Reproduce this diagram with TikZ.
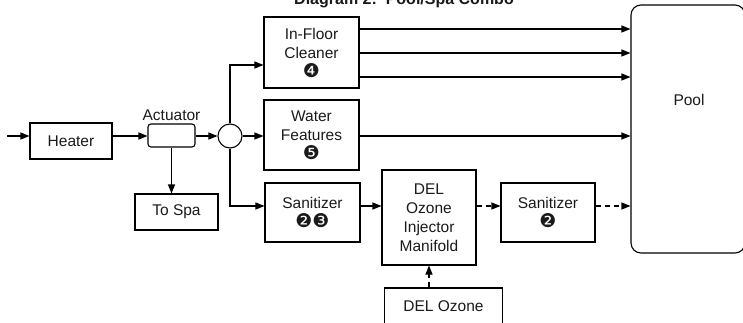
\documentclass[tikz,border=0pt]{standalone}
\usepackage{fontspec}
\setmainfont{Liberation Sans}
\newfontfamily\dingfont{DejaVu Sans}
\usetikzlibrary{arrows.meta, positioning}
\definecolor{clrLine}{HTML}{000000}
\definecolor{clrText}{HTML}{1A1A1A}
\newcommand{\nummark}[1]{{\dingfont\fontsize{19}{19}\selectfont #1}}

\begin{document}
\begin{tikzpicture}[x=1pt, y=-1pt, line width=1.1pt,
    box/.style={rectangle, draw=clrLine, line width=1.1pt, align=center,
                inner sep=0pt, text=clrText,
                font=\fontsize{15.5}{19}\selectfont},
    lbl/.style={inner sep=0pt, text=clrText, font=\fontsize{15.5}{19}\selectfont},
    flow/.style={draw=clrLine, -{Triangle[length=9pt,width=7pt]}},
    dflow/.style={flow, dash pattern=on 5pt off 4pt}]
  \useasboundingbox (0,0) rectangle (743,322);

  % title, cut off at the top
  \node[lbl, anchor=base, font=\bfseries\fontsize{16}{18}\selectfont]
       (title) at (404,4.5) {Diagram 2:\ \ Pool/Spa Combo};

  % rows of the flow
  \coordinate (inflow) at (7,136);
  \coordinate (upper) at (0,65);
  \coordinate (lower) at (0,206);
  \coordinate (r1) at (0,29);
  \coordinate (r2) at (0,53);
  \coordinate (r3) at (0,77);

  \node[box, minimum width=82pt, minimum height=36pt] (heater) at (71,141) {Heater};
  \node[box, rounded corners=3pt, minimum width=47pt, minimum height=23pt]
       (act) at (171.5,135.5) {};
  \node[lbl, above=2pt of act] (actlbl) {Actuator};
  \node[circle, draw=clrLine, line width=1.1pt, minimum size=24pt, inner sep=0pt]
       (junc) at (230,136) {};
  \node[box, minimum width=83pt, minimum height=36pt] (tospa) at (176.5,212) {To Spa};

  \node[box, minimum width=95pt, minimum height=71pt] (cleaner) at (311.5,52.5)
       {In-Floor\\Cleaner\\\nummark{❹}};
  \node[box, minimum width=95pt, minimum height=70pt] (water) at (311.5,135)
       {Water\\Features\\\nummark{❺}};
  \node[box, minimum width=95pt, minimum height=59pt] (sani) at (312.5,212.5)
       {Sanitizer\\\nummark{❷}\nummark{❸}};
  \node[box, minimum width=94pt, minimum height=95pt] (manifold) at (429,217.5)
       {DEL\\Ozone\\Injector\\Manifold};
  \node[box, minimum width=94pt, minimum height=59pt] (saniB) at (548,212.5)
       {Sanitizer\\\nummark{❷}};
  \node[box, minimum width=118pt, minimum height=36pt] (ozone) at (443.5,306) {DEL Ozone};

  \node[box, rounded corners=10pt, minimum width=114pt, minimum height=248pt]
       (pool) at (688,129) {};
  \node[lbl] (poollbl) at (689,100) {Pool};

  % connectors
  \draw[flow] (inflow) -- (inflow -| heater.west);
  \draw[flow] (heater.east |- junc) -- (act.west |- junc);
  \draw[flow] (act.east |- junc) -- (junc.west);
  \draw[flow] (act.south) -- (act.south |- tospa.north);
  \draw[flow] (junc.north) |- (cleaner.west |- upper);
  \draw[flow] (junc.east) -- (water.west |- junc);
  \draw[flow] (junc.south) |- (sani.west |- lower);
  \draw[flow] (sani.east |- lower) -- (manifold.west |- lower);
  \draw[dflow] (manifold.east |- lower) -- (saniB.west |- lower);
  \draw[dflow] (saniB.east |- lower) -- (pool.west |- lower);
  \draw[dflow] (ozone.north -| manifold.south) -- (manifold.south);
  \foreach \r in {r1,r2,r3}
    \draw[flow] (cleaner.east |- \r) -- (pool.west |- \r);
  \draw[flow] (water.east |- junc) -- (pool.west |- junc);
\end{tikzpicture}
\end{document}
